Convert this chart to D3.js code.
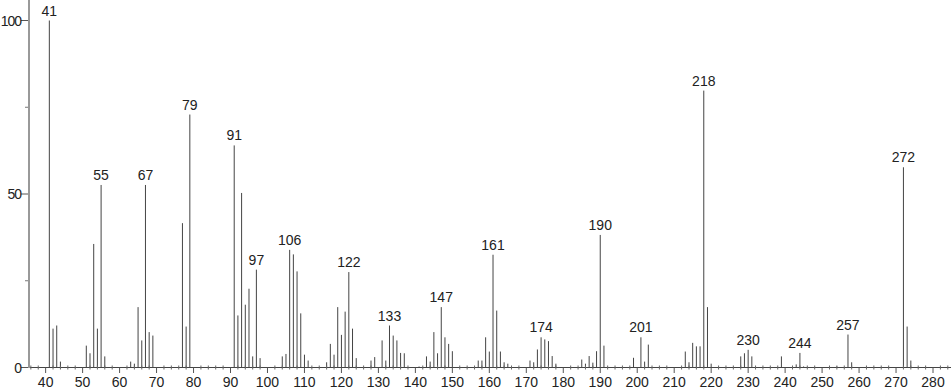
<!DOCTYPE html>
<html>
<head>
<meta charset="utf-8">
<script src="https://cdn.jsdelivr.net/npm/d3@7"></script>
<style>
  html, body { margin: 0; padding: 0; background: #fff; }
  svg { display: block; }
  text { font-family: "Liberation Sans", Arial, sans-serif; fill: #222; }
</style>
</head>
<body>
<svg id="chart" width="951" height="389"></svg>
<script>
// m/z values of peaks
const mz = [41,42,43,44,51,52,53,54,55,56,63,64,65,66,67,68,69,77,78,79,
  91,92,93,94,95,96,97,98,104,105,106,107,108,109,110,111,
  116,117,118,119,120,121,122,123,124,128,129,131,132,133,134,135,136,137,
  141,143,144,145,146,147,148,149,150,157,158,159,160,161,162,163,164,165,
  171,172,173,174,175,176,177,178,185,186,187,188,189,190,191,
  199,201,202,203,213,214,215,216,217,218,219,220,
  228,229,230,231,239,243,244,245,254,257,258,272,273,274];
// relative intensities (%)
const intensity = [100,11.2,12.1,1.7,6.3,4.1,35.6,11.2,52.6,3.2,1.7,1.1,17.4,7.8,52.6,10.2,9.2,41.6,11.8,72.9,
  64,15,50.3,18.1,22.7,3.2,28.2,2.7,3.2,3.9,33.9,32.6,27.7,15.6,3.7,2,
  1.5,6.8,3.7,17.4,9.4,16.1,27.5,11.2,2.7,2,3,7.8,2,12.1,9.2,7.8,4.2,4.1,
  0.3,3.2,1.7,10.2,4.1,17.4,8.7,6.8,4.7,2,2,8.7,4.6,32.5,16.4,4.6,1.5,1.1,
  2,1.5,5.2,8.7,8.1,7.6,3.3,1.1,2.3,1.1,3.3,1.4,4.7,38.2,6.3,
  2.8,8.7,1.7,6.6,4.6,1.5,7.1,6.1,6.1,79.8,17.4,1.1,
  3.2,4.1,5.1,3.2,3.2,0.9,4.2,0.3,0.3,9.5,1.5,57.7,11.8,2];
// labelled peaks
const labelled = [41,55,67,79,91,97,106,122,133,147,161,174,190,201,218,230,244,257,272];
// axis ticks
const xTicks = [40,50,60,70,80,90,100,110,120,130,140,150,160,170,180,190,200,210,220,230,240,250,260,270,280];
const yTicks = [0,50,100];
const yMinorTicks = [25,75];

const svg = d3.select("#chart");
const x = d3.scaleLinear().domain([35.5, 285]).range([29, 951.5]);
const y = d3.scaleLinear().domain([0, 100]).range([367.5, 20.5]);

const peaks = mz.map((m, i) => ({ mz: m, v: intensity[i] }));

// peaks
svg.append("g").selectAll("line").data(peaks).join("line")
  .attr("x1", d => x(d.mz)).attr("x2", d => x(d.mz))
  .attr("y1", y(0)).attr("y2", d => y(d.v))
  .attr("stroke", "#444").attr("stroke-width", 1);

// peak labels
svg.append("g").selectAll("text").data(peaks.filter(d => labelled.includes(d.mz))).join("text")
  .attr("x", d => x(d.mz)).attr("y", d => y(d.v) - 5)
  .attr("text-anchor", "middle").attr("font-size", 14)
  .text(d => d.mz);

// x axis
const xAxisG = svg.append("g");
xAxisG.append("line").attr("x1", 29).attr("x2", 951).attr("y1", 367.5).attr("y2", 367.5)
  .attr("stroke", "#444").attr("stroke-width", 1);
const minor = d3.range(36, 285, 2).filter(v => v % 10 !== 0);
xAxisG.selectAll("line.minor").data(minor).join("line").attr("class", "minor")
  .attr("x1", d => x(d)).attr("x2", d => x(d)).attr("y1", 365.5).attr("y2", 369.5)
  .attr("stroke", "#666").attr("stroke-width", 1);
xAxisG.selectAll("line.major").data(xTicks).join("line").attr("class", "major")
  .attr("x1", d => x(d)).attr("x2", d => x(d)).attr("y1", 367.5).attr("y2", 373)
  .attr("stroke", "#555").attr("stroke-width", 1);
xAxisG.selectAll("text").data(xTicks).join("text")
  .attr("x", d => x(d)).attr("y", 387)
  .attr("text-anchor", "middle").attr("font-size", 14)
  .text(d => d);

// y axis
const yAxisG = svg.append("g");
yAxisG.append("line").attr("x1", 29).attr("x2", 29).attr("y1", 0).attr("y2", 368)
  .attr("stroke", "#999").attr("stroke-width", 2);
yAxisG.selectAll("line.major").data(yTicks).join("line").attr("class", "major")
  .attr("x1", 21).attr("x2", 28).attr("y1", d => y(d)).attr("y2", d => y(d))
  .attr("stroke", "#555").attr("stroke-width", 1);
yAxisG.selectAll("line.minor").data(yMinorTicks).join("line").attr("class", "minor")
  .attr("x1", 25).attr("x2", 28).attr("y1", d => y(d)).attr("y2", d => y(d))
  .attr("stroke", "#777").attr("stroke-width", 1);
yAxisG.selectAll("text").data(yTicks).join("text")
  .attr("x", 21).attr("y", d => y(d) + 5)
  .attr("text-anchor", "end").attr("font-size", 14)
  .attr("letter-spacing", -1)
  .text(d => d);
</script>
</body>
</html>
